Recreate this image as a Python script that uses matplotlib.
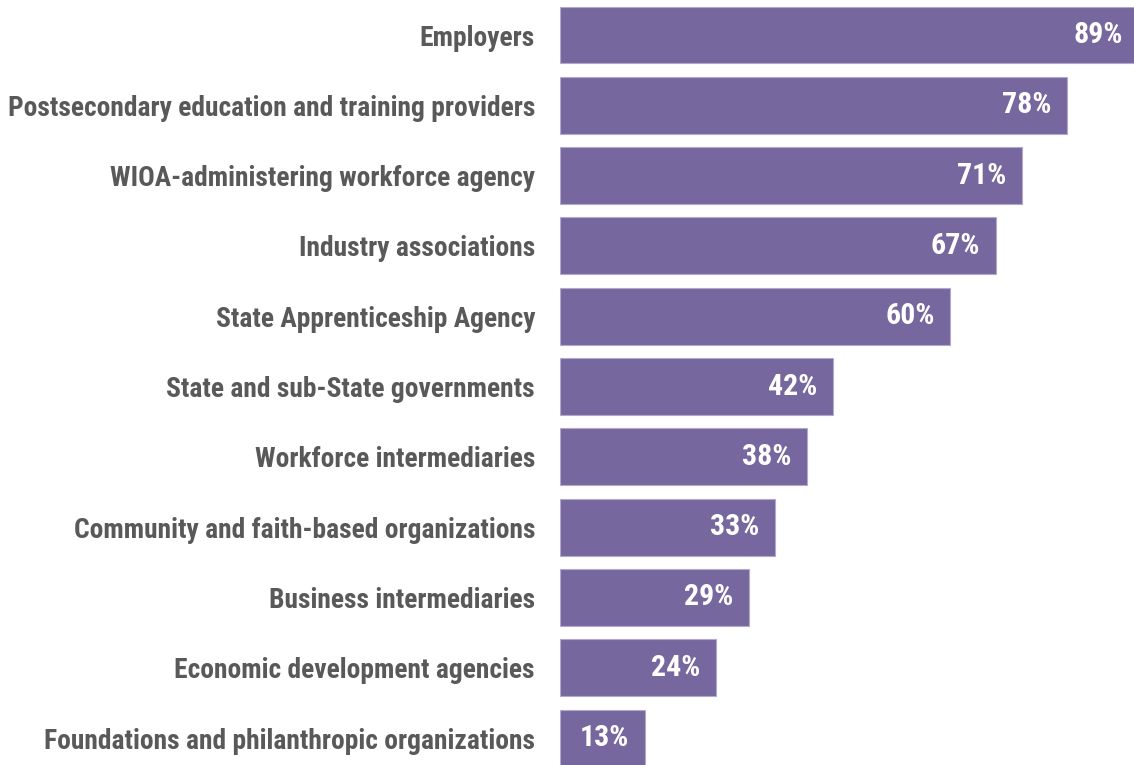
import matplotlib
matplotlib.use("Agg")
import matplotlib.pyplot as plt
from matplotlib import font_manager

categories = [
    "Employers",
    "Postsecondary education and training providers",
    "WIOA-administering workforce agency",
    "Industry associations",
    "State Apprenticeship Agency",
    "State and sub-State governments",
    "Workforce intermediaries",
    "Community and faith-based organizations",
    "Business intermediaries",
    "Economic development agencies",
    "Foundations and philanthropic organizations",
]
values = [89, 78, 71, 67, 60, 42, 38, 33, 29, 24, 13]

available = {f.name for f in font_manager.fontManager.ttflist}
family = [f for f in ["Liberation Sans Narrow", "Roboto Condensed", "Open Sans Condensed", "DejaVu Sans"]
          if f in available] or ["DejaVu Sans"]
plt.rcParams["font.family"] = family

BAR = "#76679e"
TEXT = "#595959"

fig = plt.figure(figsize=(11.34, 7.65), dpi=100)
ax = fig.add_axes([560 / 1134, 0, 574 / 1134, 1])

ypos = list(range(len(categories)))
ax.barh(ypos, values, height=0.81, color=BAR, edgecolor="#b3a9cc", linewidth=0.8)

ax.set_xlim(0, 88.3)
ax.set_ylim(10.384, -0.498)
ax.set_yticks(ypos)
ax.set_yticklabels(categories, fontsize=19.8, fontweight="bold", color=TEXT)
ax.tick_params(axis="y", length=0, pad=18)
ax.set_xticks([])
for s in ax.spines.values():
    s.set_visible(False)

for y, v in zip(ypos, values):
    ax.annotate(f"{v}%", xy=(v, y), xytext=(-11, 0), textcoords="offset points",
                ha="right", va="center", color="white", fontsize=21.5, fontweight="bold",
                annotation_clip=False)

fig.savefig("out.png", dpi=100)
